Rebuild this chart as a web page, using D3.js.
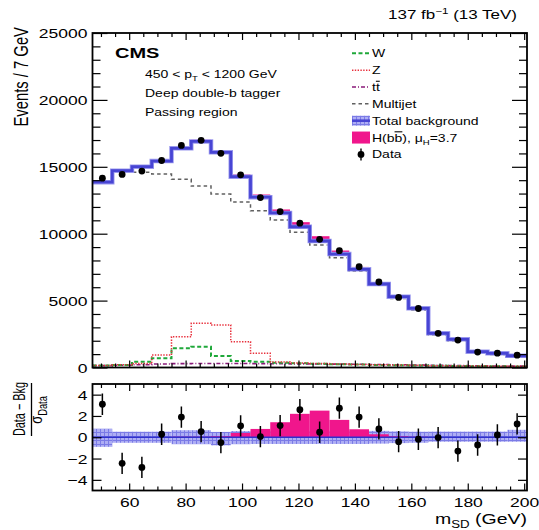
<!DOCTYPE html>
<html>
<head>
<meta charset="utf-8">
<script src="https://cdn.jsdelivr.net/npm/d3@7"></script>
<style>
  html, body { margin: 0; padding: 0; background: #fff; }
  svg { display: block; font-family: "Liberation Sans", Arial, Helvetica, sans-serif; }
</style>
</head>
<body>
<svg id="chart" width="539" height="530"></svg>
<script>
// ---------------- DATA ----------------
const binLow = [47, 54, 61, 68, 75, 82, 89, 96, 103, 110, 117, 124, 131, 138, 145, 152, 159, 166, 173, 180, 187, 194];
const binWidthGeV = 7;
const dataEvents = [14150, 14430, 14680, 15470, 16600, 16980, 16010, 14400, 12700, 11650, 10790, 9580, 8730, 7530, 6390, 5240, 4410, 2555, 2050, 1150, 1070, 920];
const totalBkg   = [13850, 14710, 15010, 15430, 16380, 16900, 16080, 14260, 12730, 11550, 10520, 9455, 8480, 7340, 6240, 5290, 4425, 2555, 2108, 1180, 1060, 880];
const multijet   = [13800, 14630, 14590, 14460, 14065, 13565, 12970, 12370, 11720, 11025, 10105, 9155, 8210, 7210, 6165, 5150, 4300, 2450, 2000, 1080, 970, 800];
const wJets      = [150, 190, 435, 685, 1430, 1555, 860, 485, 435, 360, 310, 280, 250, 220, 190, 170, 150, 130, 110, 100, 90, 80];
const zJets      = [150, 200, 300, 930, 2300, 3300, 3175, 1930, 1060, 420, 330, 290, 260, 230, 200, 180, 160, 140, 120, 110, 100, 90];
const ttbar      = [140, 170, 210, 260, 290, 300, 300, 300, 290, 280, 270, 260, 250, 240, 220, 200, 180, 160, 140, 130, 110, 100];
const higgs      = [0, 0, 0, 0, 5, 8, 13, 48, 88, 150, 230, 245, 150, 65, 22, 7, 3, 0, 0, 0, 0, 0];
const pullData   = [3.1, -2.45, -2.83, 0.28, 1.89, 0.53, -0.5, 1.07, 0.06, 1.1, 2.58, 0.47, 2.73, 1.89, 0.78, -0.42, -0.19, -0.03, -1.3, -0.73, 0.22, 1.25];
const pullHiggs  = [0, 0, 0, 0, 0.05, 0.05, 0.1, 0.4, 0.78, 1.41, 2.2, 2.5, 1.63, 0.75, 0.28, 0.1, 0.05, 0, 0, 0, 0, 0];
const bandUp     = [0.8, 0.52, 0.52, 0.52, 0.66, 0.66, 0.5, 0.58, 0.6, 0.6, 0.6, 0.6, 0.6, 0.6, 0.6, 0.55, 0.52, 0.53, 0.53, 0.53, 0.53, 0.7];
const bandDown   = [0.9, 0.52, 0.52, 0.52, 0.65, 0.65, 0.76, 0.65, 0.63, 0.63, 0.63, 0.63, 0.63, 0.63, 0.6, 0.55, 0.52, 0.42, 0.42, 0.42, 0.42, 0.42];
const mainYTicks = [0, 5000, 10000, 15000, 20000, 25000];
const pullYTicks = [-4, -2, 0, 2, 4];
const xTicks     = [60, 80, 100, 120, 140, 160, 180, 200];

// ---------------- LAYOUT ----------------
const SY = 0.76;                       // vertical squeeze of the original picture
const L = 92.5, R = 527;
const mainTop = 33, mainBot = 367.5;
const pullTop = 384, pullBot = 490.5;
const FONT = '"Liberation Sans", Arial, Helvetica, sans-serif';
const BLUE = "#4845d4", PINK = "#f0168c";

const svg = d3.select("#chart");
const defs = svg.append("defs");
const pat = defs.append("pattern").attr("id", "hatch").attr("width", 4).attr("height", 4)
  .attr("patternUnits", "userSpaceOnUse");
pat.append("rect").attr("width", 4).attr("height", 4).attr("fill", "#aeaef4");
pat.append("path").attr("d", "M0.5,0V4M0,0.5H4").attr("stroke", "#7b7be6").attr("stroke-width", 1);
defs.append("clipPath").attr("id", "clipMain").append("rect")
  .attr("x", L).attr("y", mainTop).attr("width", R - L).attr("height", mainBot - mainTop);
defs.append("clipPath").attr("id", "clipPull").append("rect")
  .attr("x", L).attr("y", pullTop).attr("width", R - L).attr("height", pullBot - pullTop);

const x = d3.scaleLinear().domain([47, 201]).range([L, R]);
const y = d3.scaleLinear().domain([0, 25000]).range([mainBot, mainTop]);
const yp = d3.scaleLinear().domain([-5, 5]).range([pullBot, pullTop]);

// ---------------- helpers ----------------
function richText(parent, px, py, parts, o) {
  const size = o.size;
  const sy = o.sy || SY;
  const subScale = o.subScale || 0.68;
  const t = parent.append("text")
    .attr("transform", `translate(${px},${py}) scale(1,${sy})` + (o.rotate ? " rotate(-90)" : ""))
    .attr("font-size", size).attr("font-family", FONT)
    .attr("text-anchor", o.anchor || "start")
    .attr("font-weight", o.weight || "normal")
    .attr("fill", o.fill || "#000");
  let cur = 0;
  parts.forEach(p => {
    const q = typeof p === "string" ? { t: p } : p;
    let target = 0, fs = size;
    if (q.sub) { target = size * 0.3; fs = size * subScale; }
    if (q.sup) { target = -size * 0.42; fs = size * subScale; }
    const ts = t.append("tspan").text(q.t).attr("font-size", fs);
    if (target !== cur) { ts.attr("dy", target - cur); cur = target; }
    if (q.over) ts.style("text-decoration", "overline");
  });
  return t;
}

function stepPoints(vals) {
  const pts = [];
  vals.forEach((v, i) => { pts.push([binLow[i], v]); pts.push([binLow[i] + binWidthGeV, v]); });
  return pts;
}

// ---------------- MAIN PANEL ----------------
const gMain = svg.append("g").attr("clip-path", "url(#clipMain)");
const lineMain = d3.line().x(d => x(d[0])).y(d => y(d[1]));

// Higgs on top of background
gMain.selectAll("rect.h").data(higgs.map((h, i) => ({ h, i })).filter(d => d.h > 0)).enter()
  .append("rect")
  .attr("x", d => x(binLow[d.i])).attr("width", d => x(binLow[d.i] + binWidthGeV) - x(binLow[d.i]))
  .attr("y", d => y(totalBkg[d.i] + d.h) - 1.5)
  .attr("height", d => y(totalBkg[d.i]) - y(totalBkg[d.i] + d.h) + 1.5)
  .attr("fill", PINK);

const comps = [
  { v: ttbar, c: "#8a1a7a", dash: "4,2,1,2", w: 1.6 },
  { v: wJets, c: "#1fa83a", dash: "4,2.5", w: 2 },
  { v: zJets, c: "#e8303c", dash: "1.4,1.4", w: 1.5 },
  { v: multijet, c: "#606060", dash: "3.5,3", w: 1.5 }
];
comps.forEach(cp => {
  gMain.append("path").attr("d", lineMain(stepPoints(cp.v))).attr("fill", "none")
    .attr("stroke", cp.c).attr("stroke-width", cp.w).attr("stroke-dasharray", cp.dash);
});
gMain.append("path").attr("d", lineMain(stepPoints(totalBkg))).attr("fill", "none")
  .attr("stroke", "#9a98ee").attr("stroke-width", 4.5);
gMain.append("path").attr("d", lineMain(stepPoints(totalBkg))).attr("fill", "none")
  .attr("stroke", BLUE).attr("stroke-width", 2.8);

// data
const centers = binLow.map(b => b + binWidthGeV / 2);
gMain.selectAll("line.eb").data(dataEvents).enter().append("line")
  .attr("x1", (d, i) => x(centers[i])).attr("x2", (d, i) => x(centers[i]))
  .attr("y1", d => y(d + Math.sqrt(d))).attr("y2", d => y(d - Math.sqrt(d)))
  .attr("stroke", "#000").attr("stroke-width", 1.5);
gMain.selectAll("circle.d").data(dataEvents).enter().append("circle")
  .attr("cx", (d, i) => x(centers[i])).attr("cy", d => y(d)).attr("r", 3.4).attr("fill", "#000");

// ---------------- PULL PANEL ----------------
const gPull = svg.append("g").attr("clip-path", "url(#clipPull)");
gPull.selectAll("rect.band").data(bandUp).enter().append("rect")
  .attr("x", (d, i) => x(binLow[i])).attr("width", (d, i) => x(binLow[i] + binWidthGeV) - x(binLow[i]))
  .attr("y", (d, i) => yp(d)).attr("height", (d, i) => yp(-bandDown[i]) - yp(d))
  .attr("fill", "url(#hatch)");
gPull.selectAll("rect.hp").data(pullHiggs.map((h, i) => ({ h, i })).filter(d => d.h > 0)).enter()
  .append("rect")
  .attr("x", d => x(binLow[d.i])).attr("width", d => x(binLow[d.i] + binWidthGeV) - x(binLow[d.i]))
  .attr("y", d => yp(d.h)).attr("height", d => yp(0) - yp(d.h)).attr("fill", PINK);
gPull.append("line").attr("x1", L).attr("x2", R).attr("y1", yp(0)).attr("y2", yp(0))
  .attr("stroke", "#3030cc").attr("stroke-width", 1.6);
gPull.selectAll("line.peb").data(pullData).enter().append("line")
  .attr("x1", (d, i) => x(centers[i])).attr("x2", (d, i) => x(centers[i]))
  .attr("y1", d => yp(d + 1)).attr("y2", d => yp(d - 1))
  .attr("stroke", "#000").attr("stroke-width", 1.5);
gPull.selectAll("circle.pd").data(pullData).enter().append("circle")
  .attr("cx", (d, i) => x(centers[i])).attr("cy", d => yp(d)).attr("r", 3.4).attr("fill", "#000");

// ---------------- AXES ----------------
function styleAxis(g) {
  g.select(".domain").remove();
  g.selectAll(".tick line").attr("stroke", "#000").attr("stroke-width", 1.2);
  g.attr("font-family", FONT);
}
const minorX = d3.range(50, 201, 5).filter(v => v % 20 !== 0);
const minorY = d3.range(0, 25001, 1000).filter(v => v % 5000 !== 0);

// main: y left/right
svg.append("g").attr("transform", `translate(${L},0)`)
  .call(d3.axisLeft(y).tickValues(mainYTicks).tickSize(-15).tickPadding(5).tickFormat(d3.format("d")))
  .call(styleAxis)
  .call(g => g.selectAll("text").attr("font-size", 17.5).attr("dy", null)
    .attr("dominant-baseline", "central").attr("transform", `scale(1,${SY})`));
svg.append("g").attr("transform", `translate(${L},0)`)
  .call(d3.axisLeft(y).tickValues(minorY).tickSize(-8).tickFormat("")).call(styleAxis);
svg.append("g").attr("transform", `translate(${R},0)`)
  .call(d3.axisRight(y).tickValues(mainYTicks).tickSize(-15).tickFormat("")).call(styleAxis);
svg.append("g").attr("transform", `translate(${R},0)`)
  .call(d3.axisRight(y).tickValues(minorY).tickSize(-8).tickFormat("")).call(styleAxis);
// main: x top/bottom
[[mainTop, "top"], [mainBot, "bottom"], [pullTop, "top"]].forEach(([yy, side]) => {
  const mk = side === "top" ? d3.axisTop : d3.axisBottom;
  svg.append("g").attr("transform", `translate(0,${yy})`)
    .call(mk(x).tickValues(xTicks).tickSize(-7).tickFormat("")).call(styleAxis);
  svg.append("g").attr("transform", `translate(0,${yy})`)
    .call(mk(x).tickValues(minorX).tickSize(-4).tickFormat("")).call(styleAxis);
});
// pull: x bottom with labels
svg.append("g").attr("transform", `translate(0,${pullBot})`)
  .call(d3.axisBottom(x).tickValues(xTicks).tickSize(-7).tickPadding(0).tickFormat(d3.format("d")))
  .call(styleAxis)
  .call(g => g.selectAll("text").attr("font-size", 17.5).attr("dy", null).attr("y", 0)
    .attr("transform", `translate(0,16) scale(1,${SY})`));
svg.append("g").attr("transform", `translate(0,${pullBot})`)
  .call(d3.axisBottom(x).tickValues(minorX).tickSize(-4).tickFormat("")).call(styleAxis);
// pull: y left/right
svg.append("g").attr("transform", `translate(${L},0)`)
  .call(d3.axisLeft(yp).tickValues(pullYTicks).tickSize(-9).tickPadding(5).tickFormat(d3.format("d")))
  .call(styleAxis)
  .call(g => g.selectAll("text").attr("font-size", 17.5).attr("dy", null)
    .attr("dominant-baseline", "central").attr("transform", `scale(1,${SY})`));
svg.append("g").attr("transform", `translate(${R},0)`)
  .call(d3.axisRight(yp).tickValues(pullYTicks).tickSize(-9).tickFormat("")).call(styleAxis);

// frames
svg.append("rect").attr("x", L).attr("y", mainTop).attr("width", R - L).attr("height", mainBot - mainTop)
  .attr("fill", "none").attr("stroke", "#000").attr("stroke-width", 1.8);
svg.append("rect").attr("x", L).attr("y", pullTop).attr("width", R - L).attr("height", pullBot - pullTop)
  .attr("fill", "none").attr("stroke", "#000").attr("stroke-width", 1.8);

// ---------------- TEXTS ----------------
richText(svg, 517, 19, ["137 fb", { t: "\u22121", sup: true }, " (13 TeV)"], { size: 17, anchor: "end" });
richText(svg, 115, 57.5, ["CMS"], { size: 20, weight: "bold" });
richText(svg, 145, 77.5, ["450 < p", { t: "T", sub: true }, " < 1200 GeV"], { size: 14 });
richText(svg, 145, 97, ["Deep double-b tagger"], { size: 14 });
richText(svg, 145, 116, ["Passing region"], { size: 14 });

richText(svg, 28, 27, ["Events / 7 GeV"], { size: 19.5, anchor: "end", rotate: true });
richText(svg, 527, 524, ["m", { t: "SD", sub: true }, " (GeV)"], { size: 19.5, anchor: "end" });

// pull y title as fraction
richText(svg, 25, 409, ["Data \u2212 Bkg"], { size: 16.5, anchor: "middle", rotate: true, sy: 0.66 });
svg.append("line").attr("x1", 31.5).attr("x2", 31.5).attr("y1", 383).attr("y2", 436)
  .attr("stroke", "#000").attr("stroke-width", 1.3);
richText(svg, 41.5, 410, ["\u03c3", { t: "Data", sub: true }], { size: 17, anchor: "middle", rotate: true, subScale: 0.72 });

// ---------------- LEGEND ----------------
const lg = svg.append("g");
const lx0 = 352, lx1 = 370, ltx = 372, ly0 = 53.3, ldy = 16.85;
const legendLines = [
  { c: "#1fa83a", dash: "4,2.5", w: 2, label: ["W"] },
  { c: "#e8303c", dash: "1.4,1.4", w: 1.5, label: ["Z"] },
  { c: "#8a1a7a", dash: "4,2,1,2", w: 1.6, label: ["t", { t: "t", over: true }] },
  { c: "#606060", dash: "3.5,3", w: 1.5, label: ["Multijet"] }
];
legendLines.forEach((e, i) => {
  const yy = ly0 + i * ldy;
  lg.append("line").attr("x1", lx0).attr("x2", lx1).attr("y1", yy).attr("y2", yy)
    .attr("stroke", e.c).attr("stroke-width", e.w).attr("stroke-dasharray", e.dash);
  richText(lg, ltx, yy + 4, e.label, { size: 14 });
});
let yy = ly0 + 4 * ldy;
lg.append("rect").attr("x", lx0).attr("y", yy - 5).attr("width", lx1 - lx0).attr("height", 10).attr("fill", "url(#hatch)");
lg.append("line").attr("x1", lx0).attr("x2", lx1).attr("y1", yy).attr("y2", yy).attr("stroke", BLUE).attr("stroke-width", 2.6);
richText(lg, ltx, yy + 4, ["Total background"], { size: 14 });
yy = ly0 + 5 * ldy;
lg.append("rect").attr("x", lx0).attr("y", yy - 6).attr("width", lx1 - lx0).attr("height", 12).attr("fill", PINK);
richText(lg, ltx, yy + 4, ["H(b", { t: "b", over: true }, "), \u03bc", { t: "H", sub: true }, "=3.7"], { size: 14 });
yy = ly0 + 6 * ldy;
lg.append("line").attr("x1", (lx0 + lx1) / 2).attr("x2", (lx0 + lx1) / 2).attr("y1", yy - 6).attr("y2", yy + 6)
  .attr("stroke", "#000").attr("stroke-width", 1.4);
lg.append("circle").attr("cx", (lx0 + lx1) / 2).attr("cy", yy).attr("r", 3.4).attr("fill", "#000");
richText(lg, ltx, yy + 4, ["Data"], { size: 14 });
</script>
</body>
</html>
